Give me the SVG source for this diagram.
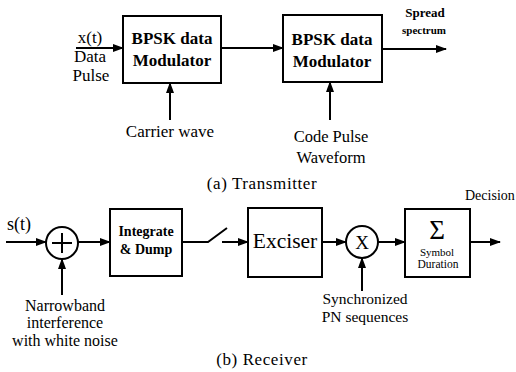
<svg xmlns="http://www.w3.org/2000/svg" width="516" height="372" viewBox="0 0 516 372">
<defs>
<marker id="ah" markerWidth="11" markerHeight="8" refX="10" refY="4" orient="auto" markerUnits="userSpaceOnUse">
<path d="M0,0 L11,4 L0,8 Z" fill="#000"/>
</marker>
</defs>
<style>
.box{fill:#fff;stroke:#000;stroke-width:2}
.ln{fill:none;stroke:#000;stroke-width:2}
text{font-family:'Liberation Serif','Times New Roman','DejaVu Serif',serif;fill:#000}
.b{font-weight:bold}
.cap{letter-spacing:0.6px}
</style>
<rect width="516" height="372" fill="#fff"/>
<g id="connectors">
<line class="ln" x1="76" y1="48" x2="123" y2="48" marker-end="url(#ah)"/>
<line class="ln" x1="221" y1="48" x2="283" y2="48" marker-end="url(#ah)"/>
<line class="ln" x1="382" y1="49" x2="446" y2="49" marker-end="url(#ah)"/>
<line class="ln" x1="170" y1="120" x2="170" y2="83" marker-end="url(#ah)"/>
<line class="ln" x1="330" y1="120" x2="330" y2="82" marker-end="url(#ah)"/>
<line class="ln" x1="6" y1="242" x2="46" y2="242" marker-end="url(#ah)"/>
<line class="ln" x1="62" y1="295" x2="62" y2="259" marker-end="url(#ah)"/>
<line class="ln" x1="78" y1="242" x2="110" y2="242" marker-end="url(#ah)"/>
<polyline class="ln" points="182,242 208,242 227,228"/>
<line class="ln" x1="222" y1="242" x2="248" y2="242" marker-end="url(#ah)"/>
<line class="ln" x1="322" y1="242" x2="346" y2="242" marker-end="url(#ah)"/>
<line class="ln" x1="362" y1="291" x2="362" y2="258" marker-end="url(#ah)"/>
<line class="ln" x1="378" y1="242" x2="405" y2="242" marker-end="url(#ah)"/>
<line class="ln" x1="470" y1="242" x2="500" y2="242" marker-end="url(#ah)"/>
</g>
<g id="mod1">
<rect class="box" x="123" y="16" width="98" height="67"/>
<text class="b" x="172" y="44" font-size="17" text-anchor="middle">BPSK data</text>
<text class="b" x="172" y="66" font-size="17" text-anchor="middle">Modulator</text>
</g>
<g id="mod2">
<rect class="box" x="283" y="15" width="99" height="67"/>
<text class="b" x="332" y="45" font-size="17" text-anchor="middle">BPSK data</text>
<text class="b" x="332" y="67" font-size="17" text-anchor="middle">Modulator</text>
</g>
<g id="tx-labels">
<text x="90" y="43" font-size="17" text-anchor="middle">x(t)</text>
<text x="90" y="62" font-size="17" text-anchor="middle">Data</text>
<text x="91" y="81" font-size="17" text-anchor="middle">Pulse</text>
<text x="170" y="137" font-size="17" text-anchor="middle">Carrier wave</text>
<text x="331" y="142" font-size="16.5" text-anchor="middle">Code Pulse</text>
<text x="331" y="163" font-size="16.5" text-anchor="middle">Waveform</text>
<text class="b" x="425" y="17" font-size="13" text-anchor="middle">Spread</text>
<text class="b" x="424" y="34" font-size="11" text-anchor="middle">spectrum</text>
<text class="cap" x="262" y="189" font-size="17" text-anchor="middle">(a) Transmitter</text>
</g>
<g id="adder">
<circle class="ln" cx="62" cy="243" r="16"/>
<line class="ln" x1="52" y1="243" x2="72" y2="243"/>
<line class="ln" x1="62" y1="233" x2="62" y2="253"/>
</g>
<g id="integrate">
<rect class="box" x="110" y="209" width="72" height="67"/>
<text class="b" x="146" y="236" font-size="14" text-anchor="middle">Integrate</text>
<text class="b" x="146" y="254" font-size="14" text-anchor="middle">&amp; Dump</text>
</g>
<g id="exciser">
<rect class="box" x="248" y="208" width="74" height="69"/>
<text x="285" y="248" font-size="21.5" text-anchor="middle">Exciser</text>
</g>
<g id="multiplier">
<circle class="ln" cx="362" cy="242" r="16"/>
<text x="362" y="249" font-size="19" text-anchor="middle">X</text>
</g>
<g id="summer">
<rect class="box" x="405" y="209" width="65" height="68"/>
<text x="437" y="239" font-size="27" text-anchor="middle">Σ</text>
<text x="437" y="256" font-size="11" text-anchor="middle">Symbol</text>
<text x="438" y="268" font-size="11.5" text-anchor="middle">Duration</text>
</g>
<g id="rx-labels">
<text x="7" y="230" font-size="18">s(t)</text>
<text x="65" y="311" font-size="16" text-anchor="middle">Narrowband</text>
<text x="65" y="328" font-size="16" text-anchor="middle">interference</text>
<text x="65" y="346" font-size="16" text-anchor="middle">with white noise</text>
<text x="365" y="304" font-size="15.5" text-anchor="middle">Synchronized</text>
<text x="365" y="322" font-size="15.5" text-anchor="middle">PN sequences</text>
<text x="465" y="200" font-size="14">Decision</text>
<text class="cap" x="262" y="365" font-size="17" text-anchor="middle">(b) Receiver</text>
</g>
</svg>
